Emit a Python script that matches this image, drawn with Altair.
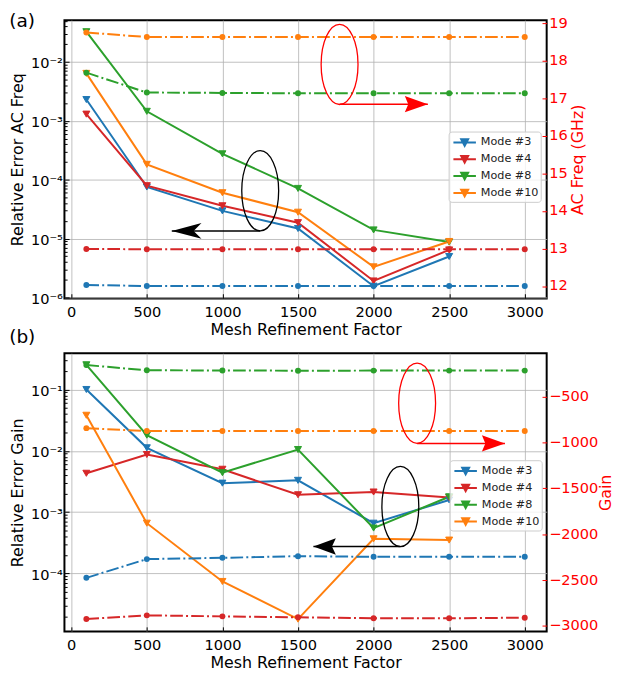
import altair as alt
import pandas as pd

FONT = "DejaVu Sans"

# ---------------- data ----------------
mesh_err = [100, 500, 1000, 1500, 2000, 2500]
mesh_all = [100, 500, 1000, 1500, 2000, 2500, 3000]
modes = ["Mode #3", "Mode #4", "Mode #8", "Mode #10"]
mode_colors = ["#1f77b4", "#d62728", "#2ca02c", "#ff7f0e"]

# panel (a): relative error of AC frequency (left, log)
a_err_m3 = [2.3e-3, 7.5e-5, 2.95e-5, 1.48e-5, 1.55e-6, 4.95e-6]
a_err_m4 = [1.3e-3, 7.9e-5, 3.6e-5, 1.86e-5, 1.9e-6, 6.4e-6]
a_err_m8 = [3.27e-2, 1.45e-3, 2.75e-4, 7.1e-5, 1.4e-5, 8.7e-6]
a_err_m10 = [6.4e-3, 1.82e-4, 6.0e-5, 2.8e-5, 3.3e-6, 8.9e-6]
# panel (a): AC frequency in GHz (right)
a_freq_m3 = [12.03, 12.0, 12.0, 12.0, 12.0, 12.0, 12.0]
a_freq_m4 = [12.99, 12.98, 12.98, 12.98, 12.98, 12.98, 12.98]
a_freq_m8 = [17.69, 17.16, 17.15, 17.14, 17.14, 17.14, 17.14]
a_freq_m10 = [18.76, 18.64, 18.64, 18.64, 18.64, 18.64, 18.64]

# panel (b): relative error of gain (left, log)
b_err_m3 = [0.10, 0.0112, 2.97e-3, 3.3e-3, 6.6e-4, 1.58e-3]
b_err_m4 = [4.3e-3, 8.7e-3, 5.0e-3, 1.92e-3, 2.13e-3, 1.73e-3]
b_err_m8 = [0.253, 0.018, 4.4e-3, 0.0105, 5.5e-4, 1.78e-3]
b_err_m10 = [0.038, 6.6e-4, 7.4e-5, 1.8e-5, 3.67e-4, 3.5e-4]
# panel (b): gain (right)
b_gain_m3 = [-2475, -2271, -2257, -2239, -2246, -2246, -2246]
b_gain_m4 = [-2924, -2884, -2895, -2905, -2916, -2916, -2909]
b_gain_m8 = [-156, -214, -215, -218, -217, -217, -217]
b_gain_m10 = [-844, -876, -876, -876, -876, -876, -876]

# axis ticks
x_ticks = [0, 500, 1000, 1500, 2000, 2500, 3000]
a_right_ticks = [12, 13, 14, 15, 16, 17, 18, 19]
b_right_ticks = [-3000, -2500, -2000, -1500, -1000, -500]
minor_mult = [1, 2, 3, 4, 5, 6, 7, 8, 9]
decade_exps = [-7, -6, -5, -4, -3, -2, -1, 0]

# annotation anchors (data coordinates, right-axis units)
a_ell_x = [1250, 1775]
a_ell_y = [14.54, 17.91]
a_arrow_tip = [665, 2359]
a_arrow_y = [13.47, 16.85]
b_ell_x = [2177, 2288]
b_ell_y = [-1698, -572]
b_arrow_tip = [1602, 2869]
b_arrow_y = [-2134, -1010]
ann_colors = ["black", "red"]

# ---------------- shapes ----------------
rx, k = 0.46, 0.5523
c = round(k * rx, 4)
ELLIPSE = (f"M0,-1 C{c},-1 {rx},-{k} {rx},0 C{rx},{k} {c},1 0,1 "
           f"C-{c},1 -{rx},{k} -{rx},0 C-{rx},-{k} -{c},-1 0,-1 Z")
HEAD_LEFT_LONG = "M0,0 L2,-0.53 L1.47,0 L2,0.53 Z"
HEAD_LEFT = "M0,0 L1.51,-0.56 L1.25,0 L1.51,0.56 Z"
HEAD_RIGHT = "M0,0 L-1.55,-0.55 L-1.32,0 L-1.55,0.55 Z"
LEGEND_SYMBOL = "M-0.74,0 L1.98,0 M0.2,-0.4 L1.04,-0.4 L0.62,0.4 Z"

X_DOMAIN = [-45, 3145]
PLOT_W, PLOT_H = 487, 281


def long_df(xs, series, name):
    rows = []
    for m, vals in zip(modes, series):
        for x, v in zip(xs, vals):
            rows.append({"mesh": x, "mode": m, name: v})
    return pd.DataFrame(rows)


def log_ticks(lo, hi):
    out = []
    for e in decade_exps:
        for m in minor_mult:
            v = m * 10.0 ** e
            if lo <= v <= hi:
                out.append(v)
    return out


x_axis = alt.Axis(
    values=x_ticks, format="d", title="Mesh Refinement Factor",
    labelFont=FONT, labelFontSize=14.7, labelColor="black",
    titleFont=FONT, titleFontSize=16, titleFontWeight="normal", titleColor="black",
    tickColor="black", tickWidth=1, tickSize={"expr": "-4.7"},
    labelPadding=11, titlePadding=2, grid=True, gridColor="#b0b0b0", gridWidth=0.8,
    domain=False, labelFlush=False, labelOverlap=False,
)
X_SCALE = alt.Scale(domain=X_DOMAIN, nice=False, zero=False)


def xenc(field="mesh"):
    return alt.X(f"{field}:Q", scale=X_SCALE, axis=x_axis)


DEC_TEST = "abs(log(datum.value)/LN10 - round(log(datum.value)/LN10)) < 0.001"
EXP = "round(log(datum.value)/LN10)"
SUP = {"-": "\u207b", "0": "\u2070", "1": "\u00b9", "2": "\u00b2", "3": "\u00b3",
       "4": "\u2074", "5": "\u2075", "6": "\u2076", "7": "\u2077"}


def sup_label(e):
    return "10" + "".join(SUP[ch] for ch in str(e))


label_expr = "''"
for e in decade_exps:
    label_expr = f"({EXP} == {e} ? '{sup_label(e)}' : {label_expr})"
label_expr = f"({DEC_TEST}) ? {label_expr} : ''"


def panel(tag, err_series, right_series, left_dom, left_title, right_dom, right_ticks,
          right_title, ell_x, ell_y, tip_x, arrow_y, heads, legend_xy, title_offset,
          right_title_pad):
    err_df = long_df(mesh_err, err_series, "err")
    right_df = long_df(mesh_all, right_series, "val")

    leg = alt.Legend(
        orient="none", legendX=legend_xy[0], legendY=legend_xy[1], title=None,
        symbolType=LEGEND_SYMBOL, symbolSize=279, symbolStrokeWidth=2, symbolOpacity=1,
        labelFont=FONT, labelFontSize=11.3, labelColor="#222222", labelOffset=12, labelLimit=200,
        padding=1.5, rowPadding=0, fillColor="rgba(255,255,255,0.8)", strokeColor="#cccccc",
        cornerRadius=3,
    )
    mscale = alt.Scale(domain=modes, range=mode_colors)
    color = alt.Color("mode:N", scale=mscale, legend=leg)
    fill = alt.Fill("mode:N", scale=mscale, legend=leg)
    stroke = alt.Stroke("mode:N", scale=mscale, legend=leg)

    lsc = alt.Scale(type="log", domain=left_dom, nice=False)
    left_axis = alt.Axis(
        values=log_ticks(*left_dom), labelExpr=label_expr, title=left_title,
        labelFont=FONT, labelFontSize=14.7, labelColor="black", labelOffset=2,
        titleFont=FONT, titleFontSize=16, titleFontWeight="normal", titleColor="black",
        tickColor="black", tickWidth=1,
        tickSize={"condition": {"test": DEC_TEST, "value": -4.7}, "value": -2.7},
        grid=True, gridColor="#b0b0b0", gridWidth=0.8,
        gridOpacity={"condition": {"test": DEC_TEST, "value": 1}, "value": 0},
        labelPadding=6.7, titlePadding=5.5, domain=False, labelOverlap=False, labelFlush=False,
    )
    yl = alt.Y("err:Q", scale=lsc, axis=left_axis)
    base = alt.Chart(err_df)
    err_line = base.mark_line(strokeWidth=2).encode(x=xenc(), y=yl, color=color)
    err_pts = base.mark_point(shape="triangle-down", filled=True, size=50, opacity=1,
                              strokeWidth=1).encode(x=xenc(), y=yl, fill=fill, stroke=stroke)
    err_layer = alt.layer(err_line, err_pts)

    rsc = alt.Scale(domain=right_dom, nice=False, zero=False)
    right_axis = alt.Axis(
        orient="right", values=right_ticks, format="d", title=right_title,
        labelFont=FONT, labelFontSize=14.7, labelColor="red",
        titleFont=FONT, titleFontSize=16, titleFontWeight="normal", titleColor="red",
        titleAngle=270, titleBaseline="top",
        tickColor="red", tickWidth=1, tickSize={"expr": "-4.7"},
        labelPadding=6.7, titlePadding=right_title_pad, grid=False, domain=False,
        labelOverlap=False, labelFlush=False,
    )
    yr = alt.Y("val:Q", scale=rsc, axis=right_axis)
    rbase = alt.Chart(right_df)
    r_line = rbase.mark_line(strokeWidth=2, strokeDash=[12.8, 3.2, 2, 3.2]).encode(
        x=xenc(), y=yr, color=color)
    r_pts = rbase.mark_circle(size=36, opacity=1).encode(x=xenc(), y=yr, color=color)

    ann = []
    for i, col in enumerate(ann_colors):
        e_df = pd.DataFrame({"mesh": [ell_x[i]], "val": [ell_y[i]]})
        a_df = pd.DataFrame({"mesh": [ell_x[i]], "tip": [tip_x[i]], "val": [arrow_y[i]]})
        ann.append(alt.Chart(e_df).mark_point(
            shape=ELLIPSE, size=6561, filled=False, strokeWidth=1.3, opacity=1, color=col
        ).encode(x=xenc(), y=yr))
        ann.append(alt.Chart(a_df).mark_rule(strokeWidth=1.5, color=col).encode(
            x=xenc(), x2="tip:Q", y=yr))
        ann.append(alt.Chart(a_df).mark_point(
            shape=heads[i], size=900, filled=True, opacity=1, strokeWidth=0, color=col
        ).encode(x=xenc("tip"), y=yr))
    right_layer = alt.layer(r_line, r_pts, *ann)

    return alt.layer(err_layer, right_layer).resolve_scale(y="independent").properties(
        width=PLOT_W, height=PLOT_H,
        title=alt.TitleParams(tag, anchor="start", frame="bounds", font=FONT, fontSize=18.7,
                              fontWeight="normal", color="black", offset=title_offset),
    )


pa = panel("(a)", [a_err_m3, a_err_m4, a_err_m8, a_err_m10],
           [a_freq_m3, a_freq_m4, a_freq_m8, a_freq_m10],
           [9.6e-7, 0.0514], "Relative Error AC Freq", [11.67, 19.09], a_right_ticks,
           "AC Freq (GHz)", a_ell_x, a_ell_y, a_arrow_tip, a_arrow_y,
           [HEAD_LEFT_LONG, HEAD_RIGHT], (PLOT_W - 99, 112.5), -16, 2)
pb = panel("(b)", [b_err_m3, b_err_m4, b_err_m8, b_err_m10],
           [b_gain_m3, b_gain_m4, b_gain_m8, b_gain_m10],
           [1.13e-5, 0.39], "Relative Error Gain", [-3060, -28], b_right_ticks,
           "Gain", b_ell_x, b_ell_y, b_arrow_tip, b_arrow_y,
           [HEAD_LEFT, HEAD_RIGHT], (PLOT_W - 98, 108), 7, 0)

chart = alt.vconcat(pa, pb, spacing=55.4, bounds="flush").resolve_scale(
    color="independent", fill="independent", stroke="independent"
).resolve_legend(
    color="independent", fill="independent", stroke="independent"
).properties(
    padding={"left": 0, "top": 0, "right": 0, "bottom": -4}
).configure(font=FONT).configure_view(stroke="black", strokeWidth=2)

chart.save("out.html", embed_options={"renderer": "svg", "actions": False})
